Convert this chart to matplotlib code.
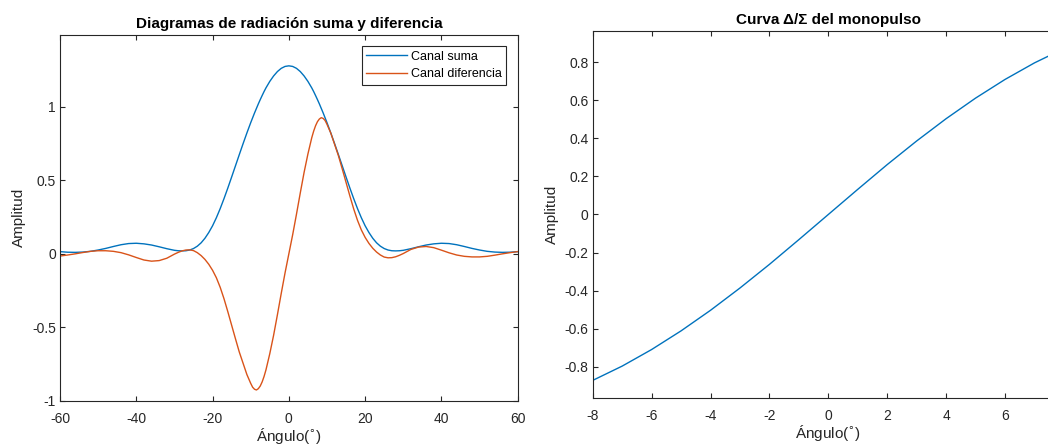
import numpy as np
import matplotlib
matplotlib.use("Agg")
from matplotlib import pyplot as plt
from matplotlib.ticker import FuncFormatter

plt.rcParams['font.family'] = ['Liberation Sans', 'DejaVu Sans']
plt.rcParams['axes.unicode_minus'] = False

# left panel (degrees)
ang = [-60, -58, -56, -54, -52, -50, -48, -46, -44, -42, -40, -38, -36, -34, -32, -30,
       -29, -28, -27, -26, -25, -24, -23, -22, -21, -20, -19, -18, -17, -16, -15, -14,
       -13, -12, -11, -10, -9.5, -9, -8.5, -8, -7.5, -7, -6.5, -6, -5, -4, -3, -2, -1, 0,
       1, 2, 3, 4, 5, 6, 6.5, 7, 7.5, 8, 8.5, 9, 9.5, 10, 11, 12, 13, 14, 15, 16, 17, 18, 19, 20,
       21, 22, 23, 24, 25, 26, 27, 28, 29, 30,
       32, 34, 36, 38, 40, 42, 44, 46, 48, 50, 52, 54, 56, 58, 60]
suma = [0.015, 0.011, 0.010, 0.012, 0.017, 0.026, 0.037, 0.050, 0.062, 0.070, 0.072, 0.068, 0.060, 0.048, 0.035, 0.024,
        0.021, 0.020, 0.021, 0.026, 0.036, 0.052, 0.075, 0.106, 0.145, 0.191, 0.246, 0.308, 0.376, 0.448, 0.523, 0.599,
        0.675, 0.750, 0.823, 0.893, 0.926, 0.959, 0.990, 1.021, 1.050, 1.078, 1.105, 1.130, 1.174, 1.211, 1.241, 1.263, 1.276, 1.280,
        1.276, 1.263, 1.241, 1.211, 1.174, 1.130, 1.105, 1.078, 1.050, 1.021, 0.990, 0.959, 0.926, 0.893, 0.823, 0.750, 0.675, 0.599, 0.523, 0.448, 0.376, 0.308, 0.246, 0.191,
        0.145, 0.106, 0.075, 0.052, 0.036, 0.026, 0.021, 0.020, 0.021, 0.024,
        0.035, 0.048, 0.060, 0.068, 0.072, 0.070, 0.062, 0.050, 0.037, 0.026, 0.017, 0.012, 0.010, 0.011, 0.015]
dif = [-0.015, -0.008, 0.000, 0.009, 0.017, 0.021, 0.021, 0.017, 0.008, -0.007, -0.025, -0.042, -0.050, -0.046, -0.030, -0.002,
       0.010, 0.020, 0.026, 0.027, 0.022, 0.008, -0.012, -0.038, -0.071, -0.112, -0.163, -0.228, -0.306, -0.394, -0.486, -0.578,
       -0.668, -0.745, -0.822, -0.882, -0.908, -0.922, -0.927, -0.918, -0.900, -0.872, -0.835, -0.790, -0.680, -0.555, -0.415, -0.270, -0.130, 0.000,
       0.130, 0.270, 0.415, 0.555, 0.680, 0.790, 0.835, 0.872, 0.900, 0.918, 0.927, 0.922, 0.908, 0.882, 0.822, 0.745, 0.668, 0.578, 0.486, 0.394, 0.306, 0.228, 0.163, 0.112,
       0.071, 0.038, 0.012, -0.008, -0.022, -0.027, -0.026, -0.020, -0.010, 0.002,
       0.030, 0.046, 0.050, 0.042, 0.025, 0.007, -0.008, -0.017, -0.021, -0.021, -0.017, -0.009, 0.000, 0.008, 0.015]

# right panel
ang2 = [-8, -7, -6, -5, -4, -3, -2, -1, 0, 1, 2, 3, 4, 5, 6, 7, 8]
ratio = [-0.871, -0.796, -0.709, -0.611, -0.503, -0.386, -0.262, -0.132, 0.0,
         0.132, 0.262, 0.386, 0.503, 0.611, 0.709, 0.796, 0.871]

blue = '#0072BD'
orange = '#D95319'
dark = '#262626'

fig = plt.figure(figsize=(10.48, 4.45), dpi=100)
ax1 = fig.add_axes([60/1048, 44.3/445, 457.7/1048, 365.7/445])
ax2 = fig.add_axes([592.7/1048, 46.7/445, 471.2/1048, 367.6/445])

fmt = FuncFormatter(lambda v, p: '%g' % round(v, 6))

ax1.plot(ang, suma, color=blue, lw=1.0, label='Canal suma')
ax1.plot(ang, dif, color=orange, lw=1.0, label='Canal diferencia')
ax1.set_xlim(-60, 60)
ax1.set_ylim(-1, 1.49)
ax1.set_xticks(range(-60, 61, 20))
ax1.set_yticks([-1, -0.5, 0, 0.5, 1])
ax1.set_title('Diagramas de radiación suma y diferencia', fontsize=11, fontweight='bold', pad=5)
ax1.set_xlabel('Ángulo($^{\\circ}$)', fontsize=11, labelpad=0, color=dark)
ax1.set_ylabel('Amplitud', fontsize=11, labelpad=4, color=dark)
leg = ax1.legend(loc='upper right', fontsize=9, fancybox=False, framealpha=1,
                 edgecolor=dark, handlelength=3.3, handletextpad=0.3,
                 labelspacing=0.45, borderpad=0.35, borderaxespad=0.9)
leg.get_frame().set_linewidth(0.8)

ax2.plot(ang2, ratio, color=blue, lw=1.0)
ax2.set_xlim(-8, 8)
ax2.set_ylim(-0.965, 0.965)
ax2.set_xticks(range(-8, 7, 2))
ax2.set_yticks([-0.8, -0.6, -0.4, -0.2, 0, 0.2, 0.4, 0.6, 0.8])
ax2.set_title('Curva Δ/Σ del monopulso', fontsize=11, fontweight='bold', pad=5)
ax2.set_xlabel('Ángulo($^{\\circ}$)', fontsize=11, labelpad=0, color=dark)
ax2.set_ylabel('Amplitud', fontsize=11, labelpad=4, color=dark)

for ax in (ax1, ax2):
    ax.xaxis.set_major_formatter(fmt)
    ax.yaxis.set_major_formatter(fmt)
    ax.tick_params(direction='in', length=3.6, width=0.8, colors=dark,
                   labelsize=10, top=True, right=True)
    ax.tick_params(axis='x', pad=8)
    ax.tick_params(axis='y', pad=3)
    for s in ax.spines.values():
        s.set_color(dark)
        s.set_linewidth(0.8)

fig.savefig('out.png', dpi=100)
